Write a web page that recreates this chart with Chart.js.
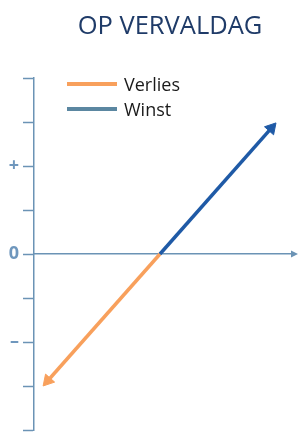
<!DOCTYPE html>
<html lang="nl">
<head>
    <meta charset="UTF-8">
    <title>Op vervaldag</title>
    <script src="https://cdn.jsdelivr.net/npm/chart.js"></script>
    <style>
        body {
            margin: 0;
            background: #ffffff;
            font-family: "Open Sans", sans-serif;
        }
        .wrap {
            position: relative;
            width: 298px;
            height: 432px;
        }
        .wrap canvas {
            position: absolute;
            left: 0;
            top: 0;
        }
        .title {
            position: absolute;
            left: 42px;
            right: 0;
            top: 12px;
            text-align: center;
            font-size: 25.5px;
            line-height: 25px;
            color: #1f3b68;
            white-space: nowrap;
        }
        .legend {
            position: absolute;
            left: 67px;
            top: 71px;
        }
        .legend-item {
            display: flex;
            align-items: center;
            height: 25px;
            font-size: 18px;
            color: #1a1a1a;
        }
        .legend-item span.bar {
            display: inline-block;
            width: 50px;
            height: 4px;
            margin-right: 7px;
        }
    </style>
</head>
<body>
    <div class="wrap">
        <canvas id="payoffChart" width="298" height="432"></canvas>
        <div class="title">OP VERVALDAG</div>
        <div class="legend" id="legend"></div>
    </div>

    <script>
        // series: start at the break-even point, end at the arrow head
        const seriesNames = ['Verlies', 'Winst'];
        const verliesX = [2.93, 0.32];
        const verliesY = [0, -2.88];
        const winstX = [2.93, 5.52];
        const winstY = [0, 2.86];
        // y ticks from -4 to 4
        const tickValues = [-4, -3, -2, -1, 0, 1, 2, 3, 4];
        const tickLabels = ['', '', '–', '', '0', '', '+', '', ''];

        const axisColor = '#6b93b5';
        const lineColors = ['#f8a05c', '#1f5aa6'];
        const legendColors = ['#f8a05c', '#5b87a1'];

        const toPoints = (xs, ys) => xs.map((x, i) => ({ x: x, y: ys[i] }));

        // rotate the triangle so it points along the line
        function arrowAngle(c) {
            const d = c.dataset.data;
            const xs = c.chart.scales.x, ys = c.chart.scales.y;
            const dx = xs.getPixelForValue(d[1].x) - xs.getPixelForValue(d[0].x);
            const dy = ys.getPixelForValue(d[1].y) - ys.getPixelForValue(d[0].y);
            return Math.atan2(dx, -dy) * 180 / Math.PI;
        }

        // arrow head at the right end of the horizontal axis
        const axisArrow = {
            id: 'axisArrow',
            afterDraw(chart) {
                const c = chart.ctx;
                const x = chart.chartArea.right;
                const y = chart.scales.y.getPixelForValue(0);
                c.save();
                c.fillStyle = axisColor;
                c.beginPath();
                c.moveTo(x - 1, y - 3.5);
                c.lineTo(x + 6, y);
                c.lineTo(x - 1, y + 3.5);
                c.closePath();
                c.fill();
                c.restore();
            }
        };

        const datasets = [
            { label: seriesNames[0], data: toPoints(verliesX, verliesY), color: lineColors[0], order: 1 },
            { label: seriesNames[1], data: toPoints(winstX, winstY), color: lineColors[1], order: 0 }
        ].map(s => ({
            label: s.label,
            data: s.data,
            order: s.order,
            showLine: true,
            clip: false,
            borderColor: s.color,
            backgroundColor: s.color,
            borderWidth: 3.5,
            borderCapStyle: 'butt',
            pointStyle: 'triangle',
            pointRadius: [0, 7],
            pointBorderWidth: 1,
            pointBorderColor: s.color,
            pointBackgroundColor: s.color,
            pointRotation: arrowAngle
        }));

        new Chart(document.getElementById('payoffChart'), {
            type: 'scatter',
            data: { datasets: datasets },
            plugins: [axisArrow],
            options: {
                responsive: false,
                animation: false,
                events: [],
                layout: {
                    autoPadding: false,
                    padding: { top: 78, bottom: 2, left: 0, right: 6 }
                },
                plugins: {
                    legend: { display: false },
                    tooltip: { enabled: false }
                },
                scales: {
                    x: {
                        type: 'linear',
                        min: 0,
                        max: 6,
                        position: { y: 0 },
                        afterFit: (s) => {
                            s.height = 0;
                            s.paddingLeft = 0;
                            s.paddingRight = 0;
                        },
                        ticks: { display: false },
                        grid: { drawOnChartArea: false, drawTicks: false },
                        border: { color: axisColor, width: 1.5 }
                    },
                    y: {
                        type: 'linear',
                        min: -4,
                        max: 4,
                        afterBuildTicks: (s) => { s.ticks = tickValues.map(v => ({ value: v })); },
                        afterFit: (s) => {
                            s.width = 34;
                            s.paddingTop = 0;
                            s.paddingBottom = 0;
                        },
                        ticks: {
                            padding: 4,
                            color: '#6f97bd',
                            font: { family: 'Open Sans', size: 18, weight: 'bold' },
                            callback: (v) => tickLabels[tickValues.indexOf(v)]
                        },
                        grid: {
                            drawOnChartArea: false,
                            tickLength: 11,
                            tickColor: axisColor,
                            tickWidth: 1.5
                        },
                        border: { color: axisColor, width: 1.5 }
                    }
                }
            }
        });

        // legend drawn next to the chart as plain text
        const legendEl = document.getElementById('legend');
        seriesNames.forEach((name, i) => {
            const item = document.createElement('div');
            item.className = 'legend-item';
            item.innerHTML = '<span class="bar" style="background:' + legendColors[i] + '"></span>' + name;
            legendEl.appendChild(item);
        });
    </script>
</body>
</html>
